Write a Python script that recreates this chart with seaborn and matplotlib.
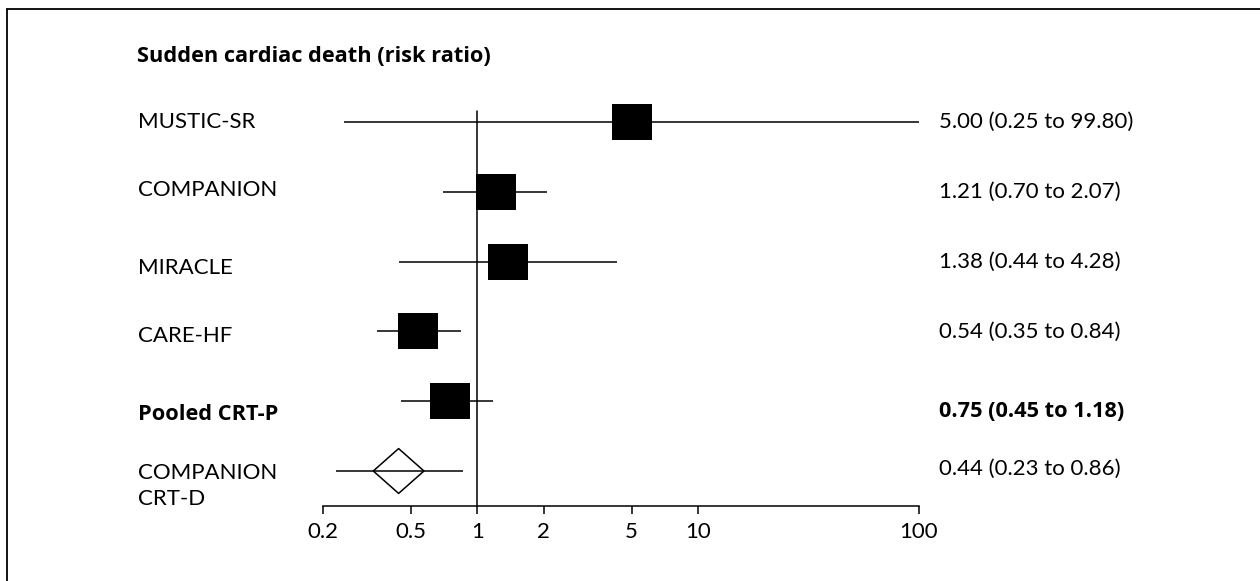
import numpy as np
import pandas as pd
import matplotlib
matplotlib.use("Agg")
import matplotlib.pyplot as plt
from matplotlib.lines import Line2D
from matplotlib.path import Path
from matplotlib.transforms import blended_transform_factory
import seaborn as sns

# Sudden cardiac death, risk ratio with 95% CI
studies = ["MUSTIC-SR", "COMPANION", "MIRACLE", "CARE-HF", "Pooled CRT-P", "COMPANION\nCRT-D"]
risk_ratio = [5.00, 1.21, 1.38, 0.54, 0.75, 0.44]
ci_low = [0.25, 0.70, 0.44, 0.35, 0.45, 0.23]
ci_high = [99.80, 2.07, 4.28, 0.84, 1.18, 0.86]
kind = ["trial", "trial", "trial", "trial", "pooled", "crtd"]

tick_values = [0.2, 0.5, 1, 2, 5, 10, 100]
tick_labels = ["0.2", "0.5", "1", "2", "5", "10", "100"]
title = "Sudden cardiac death (risk ratio)"

df = pd.DataFrame({
    "study": studies,
    "rr": risk_ratio,
    "lo": ci_low,
    "hi": ci_high,
    "kind": kind,
})
df["row"] = np.arange(len(df))

sns.set_theme(style="white")
plt.rcParams["font.family"] = ["Lato", "DejaVu Sans"]
FS = 16
BOLD_FAMILY = ["Open Sans", "DejaVu Sans"]
BFS = 15.7

W, H = 1260, 581
fig = plt.figure(figsize=(W / 100, H / 100), dpi=100)
fig.patch.set_facecolor("white")

# axes placed in pixel terms: x range 0.2..100 spans px 323..919, baseline at px 506
ax_left, ax_right = 323, 919
ax_bottom, ax_top = 506, 100
ax = fig.add_axes([ax_left / W, (H - ax_bottom) / H,
                   (ax_right - ax_left) / W, (ax_bottom - ax_top) / H])
ax.set_facecolor("none")
ax.set_xscale("log")
ax.set_xlim(0.2, 100)
row0, row_step = 122, 69.8
ax.set_ylim((ax_bottom - row0) / row_step, (ax_top - row0) / row_step)

# confidence interval lines
ax.hlines(df["row"], df["lo"], df["hi"], color="black", linewidth=1.1, zorder=2)

# point estimates: filled boxes for trials and pooled estimate
box = Path([(-1, -0.9), (1, -0.9), (1, 0.9), (-1, 0.9), (-1, -0.9)],
           [Path.MOVETO, Path.LINETO, Path.LINETO, Path.LINETO, Path.CLOSEPOLY])
sq = df[df["kind"] != "crtd"]
sns.scatterplot(data=sq, x="rr", y="row", marker=box, s=(29.5) ** 2,
                color="black", edgecolor="black", linewidth=0, ax=ax,
                legend=False, zorder=3)

# open diamond for the CRT-D estimate
diamond = Path([(-1.13, 0), (0, 1), (1.13, 0), (0, -1), (-1.13, 0)],
               [Path.MOVETO, Path.LINETO, Path.LINETO, Path.LINETO, Path.CLOSEPOLY])
dm = df[df["kind"] == "crtd"]
ax.scatter(dm["rr"], dm["row"], marker=diamond, s=(36.5) ** 2,
           facecolors="none", edgecolors="black", linewidths=1.1, zorder=3)

# line of no effect
ax.axvline(1, ymin=0, ymax=(ax_bottom - 111) / (ax_bottom - ax_top),
           color="black", linewidth=1.1, zorder=1)

for s in ["top", "right", "left"]:
    ax.spines[s].set_visible(False)
ax.spines["bottom"].set_color("black")
ax.spines["bottom"].set_linewidth(1.1)
ax.set_xticks(tick_values)
ax.set_xticklabels(tick_labels)
ax.xaxis.set_minor_locator(matplotlib.ticker.NullLocator())
ax.tick_params(axis="x", which="major", direction="out", length=6, width=1.1,
               color="black", pad=5.5, labelsize=FS, labelcolor="black", bottom=True)
ax.set_yticks([])
ax.set_xlabel("")
ax.set_ylabel("")

# study labels on the left and estimates on the right
row_tf = blended_transform_factory(fig.transFigure, ax.transData)
label_dy = [0, -2, 6, 5, 13, 15]
value_dy = [0, 0, 0, 0, 10, -2]
for i, r in df.iterrows():
    bold = r["kind"] == "pooled"
    style = dict(fontsize=BFS, fontweight="bold", family=BOLD_FAMILY) if bold \
        else dict(fontsize=FS, fontweight="normal")
    ax.text(138 / W, r["row"] + label_dy[i] / row_step, r["study"], transform=row_tf,
            ha="left", va="center", color="black", linespacing=1.35, **style)
    txt = f"{r['rr']:.2f} ({r['lo']:.2f} to {r['hi']:.2f})"
    ax.text(939 / W, r["row"] + value_dy[i] / row_step, txt, transform=row_tf,
            ha="left", va="center", color="black", **style)

fig.text(137 / W, 1 - 57 / H, title, ha="left", va="center", fontsize=BFS,
         fontweight="bold", family=BOLD_FAMILY, color="black")

# frame around the panel (left and top edges)
fig.add_artist(Line2D([7 / W, 7 / W], [0, 1 - 9 / H], transform=fig.transFigure,
                      color="black", linewidth=1.3))
fig.add_artist(Line2D([7 / W, 1], [1 - 9 / H, 1 - 9 / H], transform=fig.transFigure,
                      color="black", linewidth=1.3))

fig.savefig("out.png", dpi=100, facecolor="white")
